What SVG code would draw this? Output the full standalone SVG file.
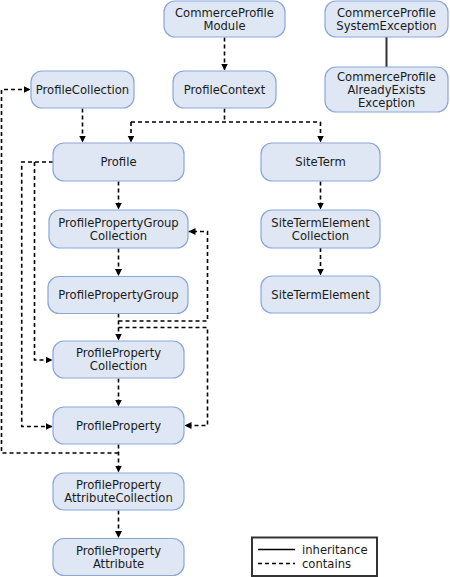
<svg xmlns="http://www.w3.org/2000/svg" width="450" height="577" viewBox="0 0 450 577">
<style>
.box{fill:#dfe7f4;stroke:#8ba6d9;stroke-width:1.2}
.t{font-family:"DejaVu Sans",Verdana,sans-serif;font-size:11.6px;fill:#1a1a1a;text-anchor:middle}
.lt{font-family:"DejaVu Sans",Verdana,sans-serif;font-size:11.6px;fill:#1a1a1a}
.c{fill:none;stroke:#000;stroke-width:1.6;stroke-dasharray:4 3}
.ca{fill:none;stroke:#000;stroke-width:1.6;stroke-dasharray:4 3;marker-end:url(#ah)}
.s{fill:none;stroke:#333;stroke-width:2}
</style>
<defs>
<marker id="ah" markerUnits="userSpaceOnUse" markerWidth="8" markerHeight="8" refX="7" refY="3.5" orient="auto">
<path d="M0,0 L7,3.5 L0,7 z" fill="#000"/>
</marker>
</defs>
<rect width="450" height="577" fill="#fff"/>
<g id="connectors">
<path class="ca" d="M224.5,37.5 V70.5"/>
<path class="s" d="M386.5,37 V67"/>
<path class="ca" d="M82.5,108.5 V142.5"/>
<path class="c" d="M224.5,108.5 V122 M131,122 H320.5"/>
<path class="ca" d="M131,122 V142.5"/>
<path class="ca" d="M320.5,122 V142.5"/>
<path class="ca" d="M118.5,181.5 V209.5"/>
<path class="ca" d="M118.5,248.5 V276"/>
<path class="ca" d="M118.5,313.5 V340.5"/>
<path class="ca" d="M118.5,321 H207.5 V231.5 H188.5"/>
<path class="ca" d="M118.5,327.5 H207.5 V425.5 H184.5"/>
<path class="ca" d="M53,162 H21.7 V426.5 H52.5"/>
<path class="ca" d="M34.5,162 V360 H52.5"/>
<path class="ca" d="M118.5,378.5 V406.5"/>
<path class="ca" d="M118.5,444.5 V472.5"/>
<path class="ca" d="M118.5,453 H1.5 V89.5 H30.5"/>
<path class="ca" d="M118.5,510.5 V538"/>
<path class="ca" d="M320.5,181.5 V209.5"/>
<path class="ca" d="M320.5,248 V275.5"/>
</g>
<g id="CommerceProfileModule"><rect class="box" x="164" y="1" width="121" height="36" rx="11"/><text class="t" x="224.5" y="16.5">CommerceProfile</text><text class="t" x="224.5" y="29.5">Module</text></g>
<g id="CommerceProfileSystemException"><rect class="box" x="325" y="1" width="123" height="36" rx="11"/><text class="t" x="386.5" y="16.5">CommerceProfile</text><text class="t" x="386.5" y="29.5">SystemException</text></g>
<g id="CommerceProfileAlreadyExistsException"><rect class="box" x="325" y="67" width="123" height="45" rx="11"/><text class="t" x="386.5" y="80.5">CommerceProfile</text><text class="t" x="386.5" y="93.5">AlreadyExists</text><text class="t" x="386.5" y="106.5">Exception</text></g>
<g id="ProfileCollection"><rect class="box" x="31" y="71" width="103" height="37" rx="11"/><text class="t" x="82.5" y="93.5">ProfileCollection</text></g>
<g id="ProfileContext"><rect class="box" x="173" y="71" width="103" height="37" rx="11"/><text class="t" x="224.5" y="93.5">ProfileContext</text></g>
<g id="Profile"><rect class="box" x="53" y="143" width="131" height="38" rx="11"/><text class="t" x="118.5" y="166">Profile</text></g>
<g id="ProfilePropertyGroupCollection"><rect class="box" x="49" y="210" width="139" height="38" rx="11"/><text class="t" x="118.5" y="226.5">ProfilePropertyGroup</text><text class="t" x="118.5" y="239.5">Collection</text></g>
<g id="ProfilePropertyGroup"><rect class="box" x="48" y="276.5" width="140" height="37" rx="11"/><text class="t" x="118.5" y="299">ProfilePropertyGroup</text></g>
<g id="ProfilePropertyCollection"><rect class="box" x="53" y="341" width="131" height="37" rx="11"/><text class="t" x="118.5" y="357">ProfileProperty</text><text class="t" x="118.5" y="370">Collection</text></g>
<g id="ProfileProperty"><rect class="box" x="53" y="407" width="131" height="37" rx="11"/><text class="t" x="118.5" y="429.5">ProfileProperty</text></g>
<g id="ProfilePropertyAttributeCollection"><rect class="box" x="53" y="473" width="131" height="37" rx="11"/><text class="t" x="118.5" y="489">ProfileProperty</text><text class="t" x="118.5" y="502">AttributeCollection</text></g>
<g id="ProfilePropertyAttribute"><rect class="box" x="53" y="538.5" width="131" height="37" rx="11"/><text class="t" x="118.5" y="554.5">ProfileProperty</text><text class="t" x="118.5" y="567.5">Attribute</text></g>
<g id="SiteTerm"><rect class="box" x="261" y="143" width="119" height="38" rx="11"/><text class="t" x="320.5" y="166">SiteTerm</text></g>
<g id="SiteTermElementCollection"><rect class="box" x="261" y="210" width="119" height="38" rx="11"/><text class="t" x="320.5" y="226.5">SiteTermElement</text><text class="t" x="320.5" y="239.5">Collection</text></g>
<g id="SiteTermElement"><rect class="box" x="261" y="276" width="119" height="37" rx="11"/><text class="t" x="320.5" y="298.5">SiteTermElement</text></g>
<g id="legend">
<rect x="252" y="537.5" width="125" height="38.5" fill="#fff" stroke="#333" stroke-width="2"/>
<path d="M258,549.5 H295" stroke="#000" stroke-width="1.6" fill="none"/>
<path d="M258,563.5 H295" class="c"/>
<text class="lt" x="302" y="553.5">inheritance</text>
<text class="lt" x="302" y="567.5">contains</text>
</g>
</svg>
